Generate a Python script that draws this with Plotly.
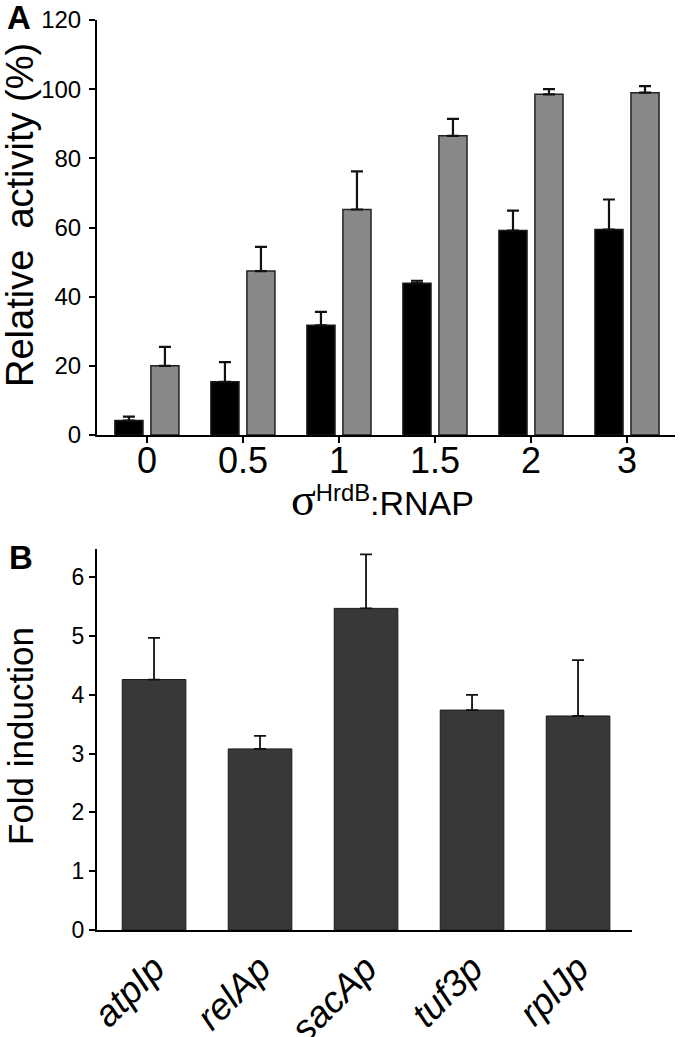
import plotly.graph_objects as go

# ---- Panel A data ----
ratio_labels = ["0", "0.5", "1", "1.5", "2", "3"]
black_vals = [4.2, 15.4, 31.7, 43.9, 59.1, 59.4]
black_err = [1.1, 5.7, 3.9, 0.7, 5.8, 8.7]
gray_vals = [20.0, 47.4, 65.2, 86.5, 98.5, 99.0]
gray_err = [5.5, 7.0, 11.0, 4.9, 1.5, 1.9]

# ---- Panel B data ----
promoters = ["atpIp", "relAp", "sacAp", "tuf3p", "rplJp"]
fold_vals = [4.26, 3.08, 5.47, 3.74, 3.64]
fold_err = [0.71, 0.22, 0.92, 0.26, 0.95]

SANS = "Liberation Sans, Arial, sans-serif"

fig = go.Figure()

fig.add_trace(go.Bar(
    x=ratio_labels, y=black_vals, xaxis="x", yaxis="y",
    marker=dict(color="#000000", line=dict(color="#1a1a1a", width=1.5)),
    error_y=dict(type="data", symmetric=False, array=black_err,
                 arrayminus=[0] * len(black_err), color="#111111",
                 thickness=2.2, width=6),
    offsetgroup="a1", showlegend=False,
))
fig.add_trace(go.Bar(
    x=ratio_labels, y=gray_vals, xaxis="x", yaxis="y",
    marker=dict(color="#888888", line=dict(color="#222222", width=1.5)),
    error_y=dict(type="data", symmetric=False, array=gray_err,
                 arrayminus=[0] * len(gray_err), color="#111111",
                 thickness=2.2, width=6),
    offsetgroup="a2", showlegend=False,
))
fig.add_trace(go.Bar(
    x=promoters, y=fold_vals, xaxis="x2", yaxis="y2",
    marker=dict(color="#383838", line=dict(color="#1a1a1a", width=1)),
    error_y=dict(type="data", symmetric=False, array=fold_err,
                 arrayminus=[0] * len(fold_err), color="#111111",
                 thickness=1.8, width=6),
    width=0.6, showlegend=False,
))

W, H = 680, 1037
def px_x(p):
    return p / W
def px_y(p):
    return 1 - p / H

fig.update_layout(
    width=W, height=H,
    margin=dict(l=0, r=0, t=0, b=0),
    paper_bgcolor="white", plot_bgcolor="white",
    barmode="group", bargap=0.25, bargroupgap=0.22,
    font=dict(family=SANS, color="#000000"),
    xaxis=dict(
        domain=[px_x(97), px_x(675)], anchor="y", automargin=False,
        type="category", range=[-0.52, 5.5],
        showline=True, linecolor="#000000", linewidth=2,
        ticks="outside", ticklen=6, tickwidth=2, tickcolor="#000000",
        tickfont=dict(size=36, family=SANS), showgrid=False, zeroline=False,
        ticklabelstandoff=-13, ticklabeloverflow="allow",
    ),
    yaxis=dict(
        domain=[px_y(435), px_y(20)], anchor="x", automargin=False,
        range=[0, 120], dtick=20,
        showline=True, linecolor="#000000", linewidth=2,
        ticks="outside", ticklen=6, tickwidth=2, tickcolor="#000000",
        tickfont=dict(size=24, family=SANS), showgrid=False, zeroline=False,
        ticklabelstandoff=3, ticklabeloverflow="allow",
    ),
    xaxis2=dict(
        domain=[px_x(97), px_x(632)], anchor="y2", automargin=False,
        type="category", range=[-0.538, 4.509],
        showline=True, linecolor="#000000", linewidth=2,
        ticks="", tickangle=-45, ticklabeloverflow="allow",
        tickfont=dict(size=37, family=SANS), showgrid=False, zeroline=False,
        tickvals=promoters, ticktext=["<i>%s</i>" % p for p in promoters],
    ),
    yaxis2=dict(
        domain=[px_y(930), px_y(549)], anchor="x2", automargin=False,
        range=[0, 6.48], dtick=1,
        showline=True, linecolor="#000000", linewidth=2,
        ticks="outside", ticklen=6, tickwidth=2, tickcolor="#000000",
        tickfont=dict(size=23, family=SANS), showgrid=False, zeroline=False,
        ticklabelstandoff=0, ticklabeloverflow="allow",
    ),
)

# axis titles
fig.add_annotation(
    text="Relative  activity (%)", textangle=-90,
    xref="paper", yref="paper", x=px_x(20), y=px_y(215),
    xanchor="center", yanchor="middle", showarrow=False,
    font=dict(size=38, family=SANS, color="#000000"),
)
fig.add_annotation(
    text="Fold induction", textangle=-90,
    xref="paper", yref="paper", x=px_x(20), y=px_y(736),
    xanchor="center", yanchor="middle", showarrow=False,
    font=dict(size=35, family=SANS, color="#000000"),
)
fig.add_annotation(
    text="<span style='font-family:Liberation Serif, serif;font-size:46px'>σ</span><sup>HrdB</sup>:RNAP",
    xref="paper", yref="paper", x=px_x(382), y=px_y(500),
    xanchor="center", yanchor="middle", showarrow=False,
    font=dict(size=34, family=SANS, color="#000000"),
)
# panel letters
fig.add_annotation(
    text="<b>A</b>", xref="paper", yref="paper", x=px_x(5), y=px_y(18),
    xanchor="left", yanchor="middle", showarrow=False,
    font=dict(size=33, family=SANS, color="#000000"),
)
fig.add_annotation(
    text="<b>B</b>", xref="paper", yref="paper", x=px_x(7), y=px_y(557),
    xanchor="left", yanchor="middle", showarrow=False,
    font=dict(size=33, family=SANS, color="#000000"),
)

# remove the default 8px page margin so the figure fills the window exactly
fig.write_html("out.html", config={"displayModeBar": False},
               post_script="document.body.style.margin='0';")
